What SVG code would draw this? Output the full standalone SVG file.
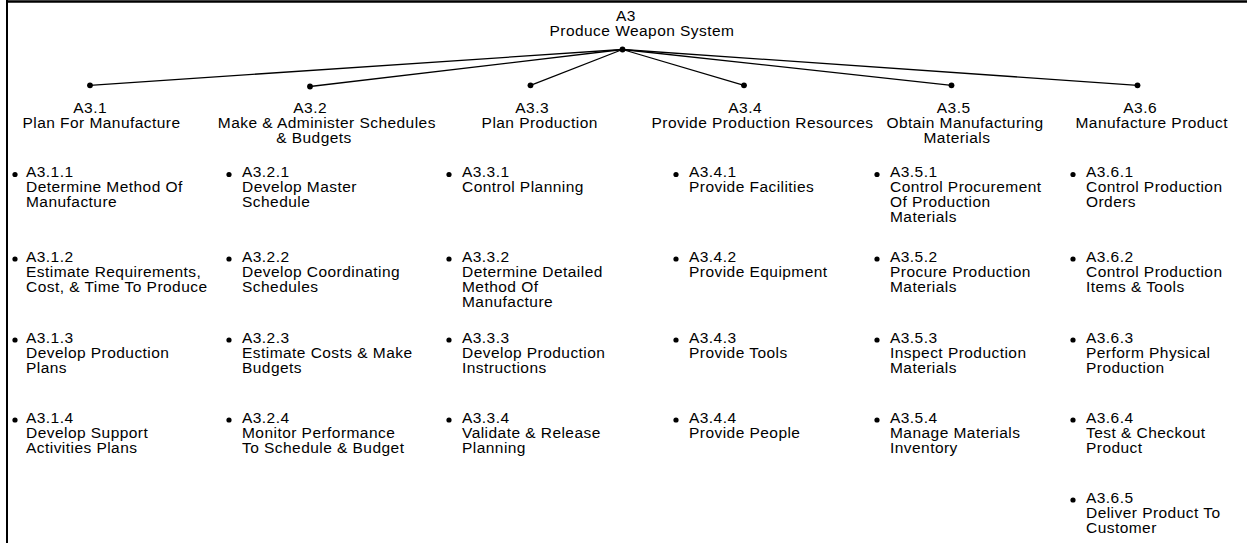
<svg xmlns="http://www.w3.org/2000/svg" width="1247" height="543" viewBox="0 0 1247 543">
  <style>
    text { font-family: "Liberation Sans", Arial, Helvetica, sans-serif; font-size: 15.5px; letter-spacing: 0.45px; fill: #000; }
    .frame { stroke: #000; fill: none; }
    .link { stroke: #000; stroke-width: 1.3; fill: none; }
    .dot { fill: #000; }
    .bullet { fill: #000; }
  </style>

  <!-- page frame: top rule and left rule -->
  <line class="frame" x1="6" y1="1.5" x2="1247" y2="1.5" stroke-width="2.5"/>
  <line class="frame" x1="7" y1="0" x2="7" y2="543" stroke-width="2"/>

  <!-- decomposition links from the parent function to its children -->
  <g id="connectors">
    <line class="link" x1="622.5" y1="49.5" x2="90" y2="85.3"/>
    <line class="link" x1="622.5" y1="49.5" x2="310" y2="86.5"/>
    <line class="link" x1="622.5" y1="49.5" x2="530.5" y2="85.3"/>
    <line class="link" x1="622.5" y1="49.5" x2="744" y2="85.3"/>
    <line class="link" x1="622.5" y1="49.5" x2="951.5" y2="85.3"/>
    <line class="link" x1="622.5" y1="49.5" x2="1137.5" y2="85.3"/>
  </g>

  <g id="A3">
    <text x="616" y="20.5">A3</text>
    <text x="549.5" y="35.5">Produce Weapon System</text>
    <circle class="dot" cx="622.5" cy="49.5" r="2.9"/>
  </g>

  <!-- second level -->
  <g id="A3.1">
    <circle class="dot" cx="90" cy="85.3" r="2.9"/>
    <text x="73.3" y="113">A3.1</text>
    <text x="22.5" y="128">Plan For Manufacture</text>
  </g>
  <g id="A3.2">
    <circle class="dot" cx="310" cy="86.5" r="2.9"/>
    <text x="293.3" y="113">A3.2</text>
    <text x="217.8" y="128">Make &amp; Administer Schedules</text>
    <text x="276.2" y="143">&amp; Budgets</text>
  </g>
  <g id="A3.3">
    <circle class="dot" cx="530.5" cy="85.3" r="2.9"/>
    <text x="515.3" y="113">A3.3</text>
    <text x="481.6" y="128">Plan Production</text>
  </g>
  <g id="A3.4">
    <circle class="dot" cx="744" cy="85.3" r="2.9"/>
    <text x="728.3" y="113">A3.4</text>
    <text x="651.5" y="128">Provide Production Resources</text>
  </g>
  <g id="A3.5">
    <circle class="dot" cx="951.5" cy="85.3" r="2.9"/>
    <text x="936.8" y="113">A3.5</text>
    <text x="886.4" y="128">Obtain Manufacturing</text>
    <text x="923.5" y="143">Materials</text>
  </g>
  <g id="A3.6">
    <circle class="dot" cx="1137.5" cy="85.3" r="2.9"/>
    <text x="1123.3" y="113">A3.6</text>
    <text x="1075.5" y="128">Manufacture Product</text>
  </g>

  <!-- third level: column under A3.1 -->
  <g id="A3.1.1">
    <circle class="bullet" cx="15" cy="174.5" r="2.6"/>
    <text x="26" y="177"><tspan x="26">A3.1.1</tspan><tspan x="26" dy="15">Determine Method Of</tspan><tspan x="26" dy="15">Manufacture</tspan></text>
  </g>
  <g id="A3.1.2">
    <circle class="bullet" cx="15" cy="259" r="2.6"/>
    <text x="26" y="261.5"><tspan x="26">A3.1.2</tspan><tspan x="26" dy="15">Estimate Requirements,</tspan><tspan x="26" dy="15">Cost, &amp; Time To Produce</tspan></text>
  </g>
  <g id="A3.1.3">
    <circle class="bullet" cx="15" cy="340" r="2.6"/>
    <text x="26" y="342.5"><tspan x="26">A3.1.3</tspan><tspan x="26" dy="15">Develop Production</tspan><tspan x="26" dy="15">Plans</tspan></text>
  </g>
  <g id="A3.1.4">
    <circle class="bullet" cx="15" cy="420" r="2.6"/>
    <text x="26" y="422.5"><tspan x="26">A3.1.4</tspan><tspan x="26" dy="15">Develop Support</tspan><tspan x="26" dy="15">Activities Plans</tspan></text>
  </g>

  <!-- column under A3.2 -->
  <g id="A3.2.1">
    <circle class="bullet" cx="229" cy="174.5" r="2.6"/>
    <text x="242" y="177"><tspan x="242">A3.2.1</tspan><tspan x="242" dy="15">Develop Master</tspan><tspan x="242" dy="15">Schedule</tspan></text>
  </g>
  <g id="A3.2.2">
    <circle class="bullet" cx="229" cy="259" r="2.6"/>
    <text x="242" y="261.5"><tspan x="242">A3.2.2</tspan><tspan x="242" dy="15">Develop Coordinating</tspan><tspan x="242" dy="15">Schedules</tspan></text>
  </g>
  <g id="A3.2.3">
    <circle class="bullet" cx="229" cy="340" r="2.6"/>
    <text x="242" y="342.5"><tspan x="242">A3.2.3</tspan><tspan x="242" dy="15">Estimate Costs &amp; Make</tspan><tspan x="242" dy="15">Budgets</tspan></text>
  </g>
  <g id="A3.2.4">
    <circle class="bullet" cx="229" cy="420" r="2.6"/>
    <text x="242" y="422.5"><tspan x="242">A3.2.4</tspan><tspan x="242" dy="15">Monitor Performance</tspan><tspan x="242" dy="15">To Schedule &amp; Budget</tspan></text>
  </g>

  <!-- column under A3.3 -->
  <g id="A3.3.1">
    <circle class="bullet" cx="449" cy="174.5" r="2.6"/>
    <text x="462" y="177"><tspan x="462">A3.3.1</tspan><tspan x="462" dy="15">Control Planning</tspan></text>
  </g>
  <g id="A3.3.2">
    <circle class="bullet" cx="449" cy="259" r="2.6"/>
    <text x="462" y="261.5"><tspan x="462">A3.3.2</tspan><tspan x="462" dy="15">Determine Detailed</tspan><tspan x="462" dy="15">Method Of</tspan><tspan x="462" dy="15">Manufacture</tspan></text>
  </g>
  <g id="A3.3.3">
    <circle class="bullet" cx="449" cy="340" r="2.6"/>
    <text x="462" y="342.5"><tspan x="462">A3.3.3</tspan><tspan x="462" dy="15">Develop Production</tspan><tspan x="462" dy="15">Instructions</tspan></text>
  </g>
  <g id="A3.3.4">
    <circle class="bullet" cx="449" cy="420" r="2.6"/>
    <text x="462" y="422.5"><tspan x="462">A3.3.4</tspan><tspan x="462" dy="15">Validate &amp; Release</tspan><tspan x="462" dy="15">Planning</tspan></text>
  </g>

  <!-- column under A3.4 -->
  <g id="A3.4.1">
    <circle class="bullet" cx="676" cy="174.5" r="2.6"/>
    <text x="689" y="177"><tspan x="689">A3.4.1</tspan><tspan x="689" dy="15">Provide Facilities</tspan></text>
  </g>
  <g id="A3.4.2">
    <circle class="bullet" cx="676" cy="259" r="2.6"/>
    <text x="689" y="261.5"><tspan x="689">A3.4.2</tspan><tspan x="689" dy="15">Provide Equipment</tspan></text>
  </g>
  <g id="A3.4.3">
    <circle class="bullet" cx="676" cy="340" r="2.6"/>
    <text x="689" y="342.5"><tspan x="689">A3.4.3</tspan><tspan x="689" dy="15">Provide Tools</tspan></text>
  </g>
  <g id="A3.4.4">
    <circle class="bullet" cx="676" cy="420" r="2.6"/>
    <text x="689" y="422.5"><tspan x="689">A3.4.4</tspan><tspan x="689" dy="15">Provide People</tspan></text>
  </g>

  <!-- column under A3.5 -->
  <g id="A3.5.1">
    <circle class="bullet" cx="877" cy="174.5" r="2.6"/>
    <text x="890" y="177"><tspan x="890">A3.5.1</tspan><tspan x="890" dy="15">Control Procurement</tspan><tspan x="890" dy="15">Of Production</tspan><tspan x="890" dy="15">Materials</tspan></text>
  </g>
  <g id="A3.5.2">
    <circle class="bullet" cx="877" cy="259" r="2.6"/>
    <text x="890" y="261.5"><tspan x="890">A3.5.2</tspan><tspan x="890" dy="15">Procure Production</tspan><tspan x="890" dy="15">Materials</tspan></text>
  </g>
  <g id="A3.5.3">
    <circle class="bullet" cx="877" cy="340" r="2.6"/>
    <text x="890" y="342.5"><tspan x="890">A3.5.3</tspan><tspan x="890" dy="15">Inspect Production</tspan><tspan x="890" dy="15">Materials</tspan></text>
  </g>
  <g id="A3.5.4">
    <circle class="bullet" cx="877" cy="420" r="2.6"/>
    <text x="890" y="422.5"><tspan x="890">A3.5.4</tspan><tspan x="890" dy="15">Manage Materials</tspan><tspan x="890" dy="15">Inventory</tspan></text>
  </g>

  <!-- column under A3.6 -->
  <g id="A3.6.1">
    <circle class="bullet" cx="1073" cy="174.5" r="2.6"/>
    <text x="1086" y="177"><tspan x="1086">A3.6.1</tspan><tspan x="1086" dy="15">Control Production</tspan><tspan x="1086" dy="15">Orders</tspan></text>
  </g>
  <g id="A3.6.2">
    <circle class="bullet" cx="1073" cy="259" r="2.6"/>
    <text x="1086" y="261.5"><tspan x="1086">A3.6.2</tspan><tspan x="1086" dy="15">Control Production</tspan><tspan x="1086" dy="15">Items &amp; Tools</tspan></text>
  </g>
  <g id="A3.6.3">
    <circle class="bullet" cx="1073" cy="340" r="2.6"/>
    <text x="1086" y="342.5"><tspan x="1086">A3.6.3</tspan><tspan x="1086" dy="15">Perform Physical</tspan><tspan x="1086" dy="15">Production</tspan></text>
  </g>
  <g id="A3.6.4">
    <circle class="bullet" cx="1073" cy="420" r="2.6"/>
    <text x="1086" y="422.5"><tspan x="1086">A3.6.4</tspan><tspan x="1086" dy="15">Test &amp; Checkout</tspan><tspan x="1086" dy="15">Product</tspan></text>
  </g>
  <g id="A3.6.5">
    <circle class="bullet" cx="1073" cy="500" r="2.6"/>
    <text x="1086" y="502.5"><tspan x="1086">A3.6.5</tspan><tspan x="1086" dy="15">Deliver Product To</tspan><tspan x="1086" dy="15">Customer</tspan></text>
  </g>
</svg>
